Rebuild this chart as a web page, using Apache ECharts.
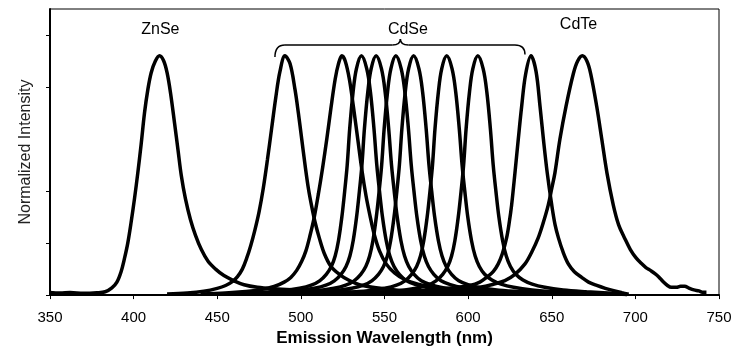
<!DOCTYPE html>
<html>
<head>
<meta charset="utf-8">
<script src="https://cdn.jsdelivr.net/npm/echarts@6/dist/echarts.min.js"></script>
<style>
    html, body { margin: 0; padding: 0; background: #fff; }
    #chart { width: 740px; height: 352px; }
</style>
</head>
<body>
<div id="chart"></div>
<script>
// x ticks (nm) and the y ticks that are drawn (0.6 has no tick in the original)
var xTicks = [350, 400, 450, 500, 550, 600, 650, 700, 750];
var yTicks = [0, 0.2, 0.4, 0.8, 1.0];

// spectra: [wavelength nm, normalized intensity]
var znse = [[350,0.01],[356,0.008],[362,0.01],[370,0.007],[378,0.009],[383,0.013],[387,0.028],[390,0.05],[392.5,0.09],[394.5,0.14],[396.5,0.2],[398.5,0.28],[400.5,0.37],[402.5,0.47],[404.5,0.58],[406.5,0.7],[408.5,0.79],[410.5,0.855],[413,0.9],[415.5,0.92],[418,0.9],[420,0.855],[422,0.78],[424.5,0.66],[426.5,0.56],[428.5,0.46],[431,0.37],[434,0.29],[437,0.23],[440.5,0.175],[444.5,0.13],[449,0.1],[454,0.075],[460,0.055],[466,0.04],[474,0.03],[484,0.024],[495,0.02],[510,0.016],[530,0.012],[560,0.009],[600,0.006]];
var cdse490 = [[420,0.004],[432,0.008],[442,0.015],[450,0.026],[455,0.037],[459,0.052],[462,0.07],[465,0.1],[467.5,0.14],[470,0.19],[472.5,0.25],[475,0.32],[477.5,0.41],[480,0.52],[482.5,0.64],[485,0.76],[487.5,0.86],[490.5,0.92],[493.5,0.89],[496.5,0.79],[498.5,0.7],[500.5,0.6],[502.5,0.5],[504.5,0.41],[506.5,0.34],[508.5,0.28],[511,0.22],[514,0.16],[518,0.11],[523,0.08],[529,0.056],[535,0.04],[545,0.028],[558,0.019],[575,0.013],[600,0.009],[640,0.006],[680,0.003]];
var cdse524 = [[440,0.004],[455,0.008],[467,0.014],[477,0.022],[484,0.033],[490,0.05],[494,0.068],[497.5,0.095],[500.5,0.13],[503,0.17],[505.5,0.23],[508,0.3],[510.5,0.39],[513,0.49],[515.5,0.6],[518,0.72],[520.5,0.83],[522.5,0.89],[524.5,0.92],[526.5,0.9],[529,0.83],[531.5,0.72],[534,0.6],[536.5,0.48],[539,0.38],[541.5,0.3],[544,0.23],[547,0.17],[551,0.12],[556,0.085],[562,0.06],[570,0.042],[580,0.029],[595,0.02],[615,0.014],[645,0.009],[680,0.004]];
var cdse536 = [[450,0.004],[461.2,0.007],[476.2,0.011],[489.2,0.017],[499.2,0.026],[506.2,0.038],[511.2,0.055],[515.2,0.08],[518.2,0.11],[520.5,0.15],[522.5,0.21],[524.5,0.3],[526.2,0.4],[527.7,0.5],[529.2,0.64],[531.2,0.78],[533.2,0.87],[536.2,0.92],[539.4,0.87],[541.6,0.78],[543.7,0.64],[545.4,0.5],[547,0.4],[548.8,0.3],[551,0.21],[553.2,0.15],[555.7,0.11],[558.9,0.08],[563.2,0.055],[568.7,0.04],[576.2,0.028],[587.2,0.019],[601.2,0.013],[616.2,0.009],[640,0.006],[680,0.003]];
var cdse545 = [[455,0.004],[470,0.007],[485,0.011],[498,0.017],[508,0.026],[515,0.038],[520,0.055],[524,0.08],[527,0.11],[529.3,0.15],[531.3,0.21],[533.3,0.3],[535,0.4],[536.5,0.5],[538,0.64],[540,0.78],[542,0.87],[545,0.92],[548.2,0.87],[550.4,0.78],[552.5,0.64],[554.2,0.5],[555.8,0.4],[557.6,0.3],[559.8,0.21],[562,0.15],[564.5,0.11],[567.7,0.08],[572,0.055],[577.5,0.04],[585,0.028],[596,0.019],[610,0.013],[625,0.009],[650,0.006],[685,0.003]];
var cdse557 = [[465,0.004],[481.8,0.007],[496.8,0.011],[509.8,0.017],[519.8,0.026],[526.8,0.038],[531.8,0.055],[535.8,0.08],[538.8,0.11],[541.1,0.15],[543.1,0.21],[545.1,0.3],[546.8,0.4],[548.3,0.5],[549.8,0.64],[551.8,0.78],[553.8,0.87],[556.8,0.92],[560,0.87],[562.2,0.78],[564.3,0.64],[566,0.5],[567.6,0.4],[569.4,0.3],[571.6,0.21],[573.8,0.15],[576.3,0.11],[579.5,0.08],[583.8,0.055],[589.3,0.04],[596.8,0.028],[607.8,0.019],[621.8,0.013],[636.8,0.009],[660,0.006],[690,0.003]];
var cdse567 = [[475,0.004],[492.4,0.007],[507.4,0.011],[520.4,0.017],[530.4,0.026],[537.4,0.038],[542.4,0.055],[546.4,0.08],[549.4,0.11],[551.7,0.15],[553.7,0.21],[555.7,0.3],[557.4,0.4],[558.9,0.5],[560.4,0.64],[562.4,0.78],[564.4,0.87],[567.4,0.92],[570.6,0.87],[572.8,0.78],[574.9,0.64],[576.6,0.5],[578.2,0.4],[580,0.3],[582.2,0.21],[584.4,0.15],[586.9,0.11],[590.1,0.08],[594.4,0.055],[599.9,0.04],[607.4,0.028],[618.4,0.019],[632.4,0.013],[647.4,0.009],[668,0.006],[692,0.003]];
var cdse587 = [[495,0.004],[512.2,0.007],[527.2,0.011],[540.2,0.017],[550.2,0.026],[557.2,0.038],[562.2,0.055],[566.2,0.08],[569.2,0.11],[571.5,0.15],[573.5,0.21],[575.5,0.3],[577.2,0.4],[578.7,0.5],[580.2,0.64],[582.2,0.78],[584.2,0.87],[587.2,0.92],[590.4,0.87],[592.6,0.78],[594.7,0.64],[596.4,0.5],[598,0.4],[599.8,0.3],[602,0.21],[604.2,0.15],[606.7,0.11],[609.9,0.08],[614.2,0.058],[619.7,0.042],[627.2,0.03],[638.2,0.02],[652.2,0.013],[667.2,0.009],[685,0.005],[695,0.002]];
var cdse606 = [[515,0.004],[530.8,0.007],[545.8,0.011],[558.8,0.017],[568.8,0.026],[575.8,0.038],[580.8,0.055],[584.8,0.08],[587.8,0.11],[590.1,0.15],[592.1,0.21],[594.1,0.3],[595.8,0.4],[597.3,0.5],[598.8,0.64],[600.8,0.78],[602.8,0.87],[605.8,0.92],[609,0.87],[611.2,0.78],[613.3,0.64],[615,0.5],[616.6,0.4],[618.4,0.3],[620.6,0.21],[622.8,0.15],[625.3,0.11],[628.5,0.08],[632.8,0.058],[638.3,0.042],[645.8,0.03],[656.8,0.02],[670.8,0.013],[685.8,0.007],[695,0.002]];
var cdse638 = [[530,0.004],[548,0.008],[563,0.013],[577,0.019],[590,0.027],[601,0.037],[607,0.05],[611,0.068],[615,0.09],[618,0.12],[620.5,0.16],[623,0.22],[624.6,0.28],[626,0.346],[628,0.47],[630,0.6],[632,0.725],[634.4,0.85],[637.6,0.92],[640.6,0.86],[643,0.725],[645,0.6],[647.3,0.47],[650,0.346],[652,0.27],[654,0.22],[656.8,0.165],[659.9,0.12],[663.5,0.09],[667.9,0.068],[672,0.05],[676.9,0.037],[682,0.026],[687,0.017],[692,0.009],[696,0.003]];
var cdte668 = [[480,0.004],[510,0.008],[540,0.011],[565,0.015],[585,0.02],[600,0.025],[607,0.03],[614,0.04],[622,0.056],[628,0.08],[634,0.12],[638,0.165],[641.9,0.22],[645,0.28],[647.9,0.346],[650,0.41],[651.9,0.47],[654.9,0.6],[658.5,0.725],[662.9,0.851],[665.5,0.9],[668.3,0.92],[671,0.9],[673.3,0.851],[676.9,0.725],[679.9,0.6],[683,0.47],[686.8,0.346],[690,0.27],[693.5,0.22],[697,0.175],[700.3,0.144],[703.5,0.122],[706.3,0.106],[709,0.095],[711.7,0.083],[714,0.07],[716.5,0.052],[719,0.038],[721.5,0.03],[724.5,0.03],[727,0.034],[729.5,0.034],[732,0.027],[735,0.02],[738,0.016],[740,0.011],[742.5,0.011]];

var spectra = [znse, cdse490, cdse524, cdse536, cdse545, cdse557, cdse567, cdse587, cdse606, cdse638, cdte668];

var fontFamily = 'Arial, "Liberation Sans", sans-serif';
var myChart = echarts.init(document.getElementById('chart'));

var option = {
    animation: false,
    backgroundColor: '#fff',
    grid: {
        left: 50, right: 21, top: 9, bottom: 54,
        show: true,
        borderColor: '#000',
        borderWidth: 1
    },
    xAxis: {
        type: 'value',
        min: 350,
        max: 750,
        interval: 50,
        name: 'Emission Wavelength (nm)',
        nameLocation: 'middle',
        nameGap: 34,
        nameTextStyle: { color: '#000', fontSize: 17, fontWeight: 'bold', fontFamily: fontFamily },
        axisLine: { show: true, lineStyle: { color: '#000', width: 2 } },
        axisTick: { show: true, length: 4, lineStyle: { color: '#000', width: 1 } },
        axisLabel: {
            color: '#000', fontSize: 15, fontFamily: fontFamily, margin: 15,
            customValues: xTicks
        },
        splitLine: { show: false }
    },
    yAxis: {
        type: 'value',
        min: 0,
        max: 1.1,
        name: 'Normalized Intensity',
        nameLocation: 'middle',
        nameGap: 16,
        nameTextStyle: { color: '#222', fontSize: 16, fontFamily: fontFamily },
        axisLine: { show: true, lineStyle: { color: '#000', width: 2 } },
        axisTick: { show: true, length: 4, customValues: yTicks, lineStyle: { color: '#000', width: 1 } },
        axisLabel: { show: false },
        splitLine: { show: false }
    },
    series: spectra.map(function (d) {
        return {
            type: 'line',
            data: d,
            smooth: 0.35,
            showSymbol: false,
            lineStyle: { color: '#000', width: 3.5 },
            z: 2
        };
    })
};
myChart.setOption(option);

// annotations placed in data coordinates
function px(x, y) { return myChart.convertToPixel({ gridIndex: 0 }, [x, y]); }

var labels = [
    { text: 'ZnSe', at: px(416, 1.02) },
    { text: 'CdSe', at: px(564, 1.02) },
    { text: 'CdTe', at: px(666, 1.04) }
];
var graphics = labels.map(function (l) {
    return {
        type: 'text',
        x: l.at[0], y: l.at[1],
        style: {
            text: l.text, fill: '#000', font: '16px ' + fontFamily,
            align: 'center', verticalAlign: 'middle'
        },
        z: 10
    };
});

// curly brace over the CdSe peaks
var xL = px(484.5, 0)[0], xC = px(559.5, 0)[0], xR = px(634, 0)[0];
var yL = px(0, 0.915)[1], yH = px(0, 0.962)[1], yC = px(0, 0.985)[1], yR = px(0, 0.925)[1];
var braceStyle = { stroke: '#000', lineWidth: 1.5, fill: null };
var braceParts = [
    { type: 'bezierCurve', shape: { x1: xL, y1: yL, cpx1: xL, cpy1: yH, x2: xL + 10, y2: yH } },
    { type: 'line', shape: { x1: xL + 10, y1: yH, x2: xC - 8, y2: yH } },
    { type: 'bezierCurve', shape: { x1: xC - 8, y1: yH, cpx1: xC, cpy1: yH, x2: xC, y2: yC } },
    { type: 'bezierCurve', shape: { x1: xC, y1: yC, cpx1: xC, cpy1: yH, x2: xC + 8, y2: yH } },
    { type: 'line', shape: { x1: xC + 8, y1: yH, x2: xR - 10, y2: yH } },
    { type: 'bezierCurve', shape: { x1: xR - 10, y1: yH, cpx1: xR, cpy1: yH, x2: xR, y2: yR } }
];
braceParts.forEach(function (p) {
    p.style = braceStyle;
    p.z = 10;
    graphics.push(p);
});

myChart.setOption({ graphic: graphics });
</script>
</body>
</html>
